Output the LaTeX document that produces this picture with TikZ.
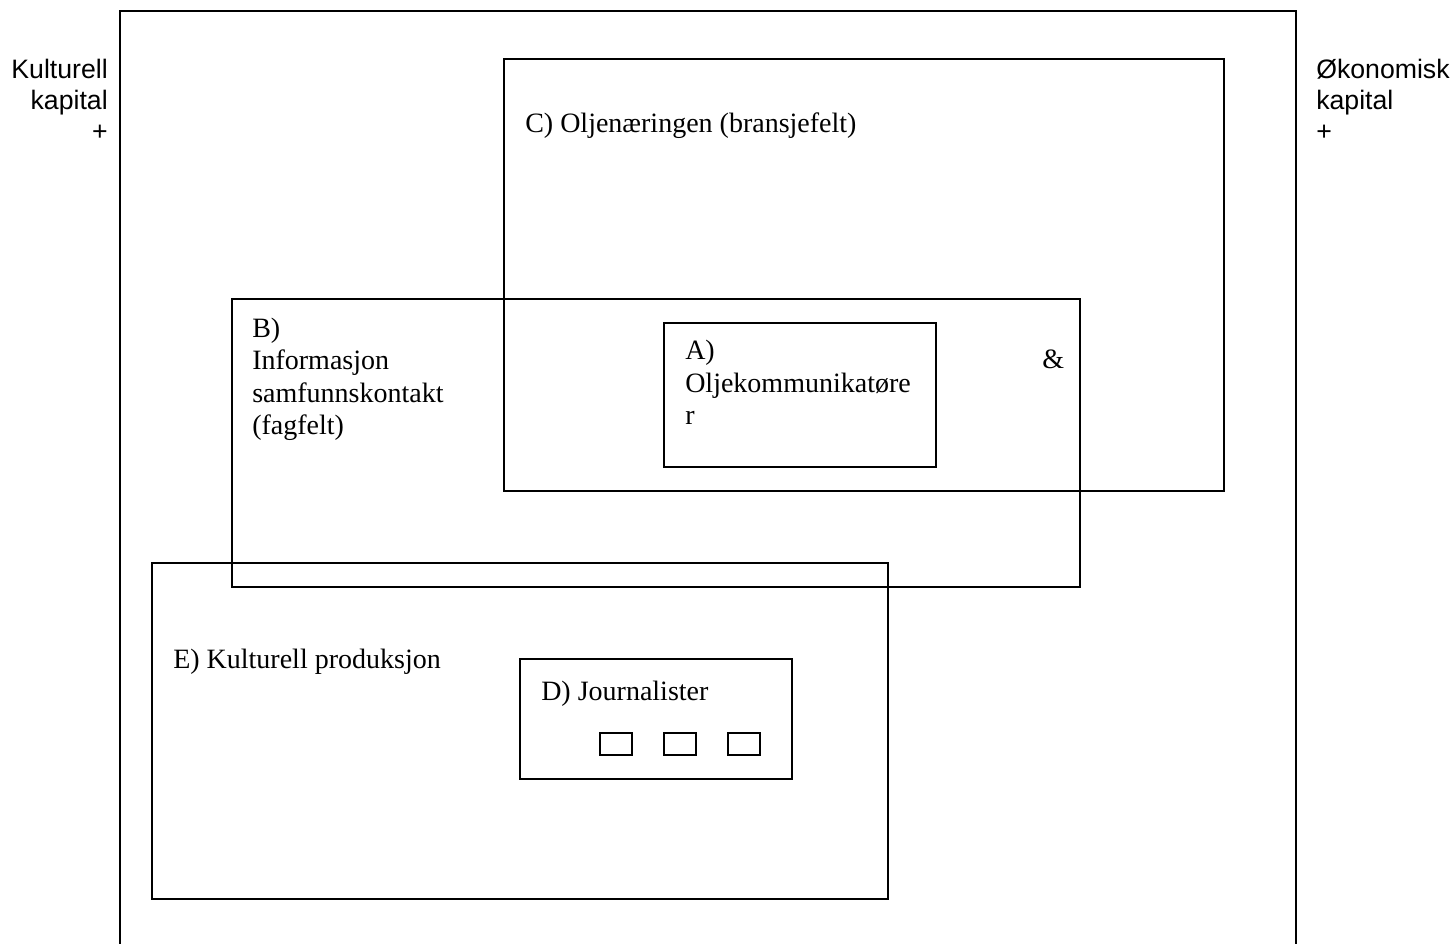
\documentclass[tikz,border=0pt]{standalone}
\usepackage{fontspec}
\setmainfont{Liberation Serif}
\newfontfamily\kapfont{Liberation Sans}

\begin{document}
\begin{tikzpicture}[x=0.75pt,y=-0.75pt,
  felt/.style={line width=1.7pt},
  felttekst/.style={anchor=base west,inner sep=0pt,align=left,font=\fontsize{21}{24.4}\selectfont},
  kaptekst/.style={inner sep=0pt,font=\kapfont\fontsize{20}{23.6}\selectfont}]
\useasboundingbox (0,0) rectangle (1452,944);

% outer field, open at the bottom
\draw[felt] (120,944) -- (120,11) -- (1296,11) -- (1296,944);
% multi-line nodes sit on the baseline of their last line
\node[kaptekst,anchor=base east,align=right] (kulturell) at (108,141) {Kulturell\\kapital\\+};
\node[kaptekst,anchor=base west,align=left] (okonomisk) at (1316,141) {Økonomisk\\kapital\\+};

% fields
\draw[felt] (504,59) rectangle (1224,491);
\draw[felt] (232,299) rectangle (1080,587);
\draw[felt] (664,323) rectangle (936,467);
\draw[felt] (152,563) rectangle (888,899);
\draw[felt] (520,659) rectangle (792,779);
\foreach \x in {600,664,728}
  \draw[felt] (\x,733) rectangle (\x+32,755);

\node[felttekst] (oljenaering) at (525,133) {C) Oljenæringen (bransjefelt)};
\node[felttekst] (informasjon) at (252,435) {B)\\Informasjon\\samfunnskontakt\\(fagfelt)};
\node[felttekst] (oljekomm) at (685,425) {A)\\Oljekommunikatøre\\r};
\node[felttekst] (og) at (1042,369) {\&};
\node[felttekst] (kultprod) at (173,668) {E) Kulturell produksjon};
\node[felttekst] (journalister) at (541,700) {D) Journalister};
\end{tikzpicture}
\end{document}
